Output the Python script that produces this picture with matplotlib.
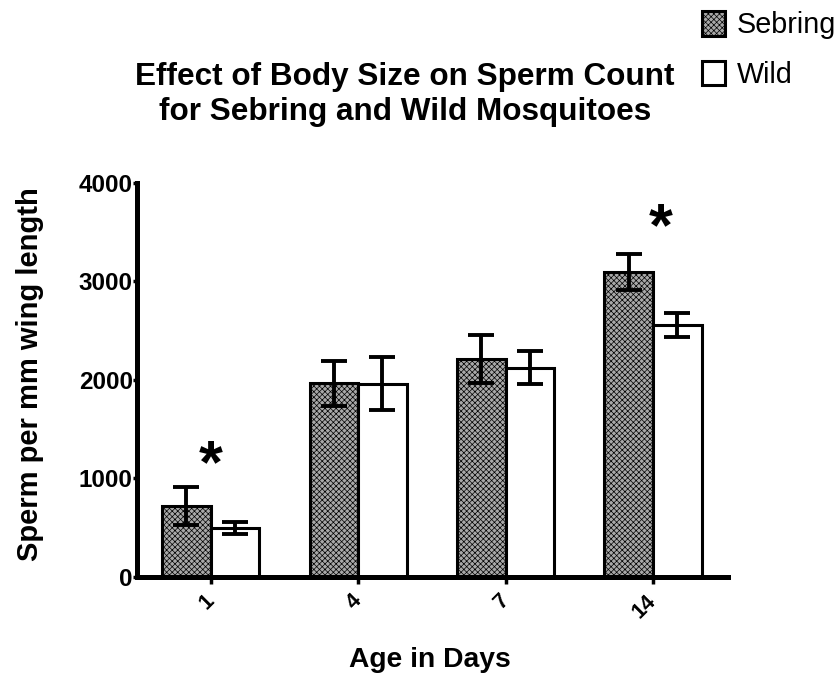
import numpy as np
import matplotlib
matplotlib.use("Agg")
import matplotlib.pyplot as plt

plt.rcParams["font.family"] = ["Liberation Sans", "DejaVu Sans"]
plt.rcParams["hatch.linewidth"] = 0.5

# data
days = ["1", "4", "7", "14"]
sebring = [721, 1965, 2215, 3100]
sebring_err = [193, 225, 245, 183]
wild = [497, 1960, 2125, 2555]
wild_err = [56, 270, 168, 122]
# significance markers: (group index, height)
stars = [(0.0, 1120), (3.05, 3520)]

x = np.arange(len(days))
w = 0.33

fig = plt.figure(figsize=(8.37, 6.76), dpi=100)
ax = fig.add_axes([0.1637, 0.1465, 0.7063, 0.583])

ax.bar(x - w / 2, sebring, w, facecolor="#a8a8a8", edgecolor="black",
       hatch="xxxxxx", linewidth=2.2, label="Sebring", zorder=2)
ax.bar(x + w / 2, wild, w, facecolor="white", edgecolor="black",
       linewidth=2.2, label="Wild", zorder=2)
ax.errorbar(x - w / 2, sebring, yerr=sebring_err, fmt="none", ecolor="black",
            elinewidth=2.8, capsize=9.7, capthick=2.8, zorder=3)
ax.errorbar(x + w / 2, wild, yerr=wild_err, fmt="none", ecolor="black",
            elinewidth=2.8, capsize=9.7, capthick=2.8, zorder=3)

for sx, sy in stars:
    ax.text(sx, sy, "*", ha="center", va="center", fontsize=44, fontweight="bold")

ax.set_xlim(-0.5, 3.51)
ax.set_ylim(0, 4000)
ax.set_yticks([0, 1000, 2000, 3000, 4000])
ax.set_xticks(x)
ax.set_xticklabels(days, rotation=45, ha="right", va="center",
                   rotation_mode="anchor", fontsize=15.5, fontweight="bold")
for lab in ax.get_yticklabels():
    lab.set_fontsize(17.5)
    lab.set_fontweight("bold")

for s in ["top", "right"]:
    ax.spines[s].set_visible(False)
for s in ["left", "bottom"]:
    ax.spines[s].set_linewidth(3.6)
ax.tick_params(axis="y", width=2.5, length=3, pad=0)
ax.tick_params(axis="x", width=2.5, length=5, pad=10)

ax.set_ylabel("Sperm per mm wing length", fontsize=21, fontweight="bold")
ax.yaxis.set_label_coords(-0.157, 0.515)
ax.set_xlabel("Age in Days", fontsize=20.3, fontweight="bold")
ax.xaxis.set_label_coords(0.496, -0.178)

fig.text(0.484, 0.86, "Effect of Body Size on Sperm Count\nfor Sebring and Wild Mosquitoes",
         ha="center", va="center", fontsize=22.7, fontweight="bold", linespacing=1.2)

fig.legend(loc="upper left", bbox_to_anchor=(702 / 837, 1 - 11 / 676), frameon=False,
           fontsize=20.7, handlelength=0.8, handleheight=0.94, handletextpad=0.42,
           labelspacing=0.75, borderpad=0, borderaxespad=0)

fig.savefig("out.png", dpi=100)
